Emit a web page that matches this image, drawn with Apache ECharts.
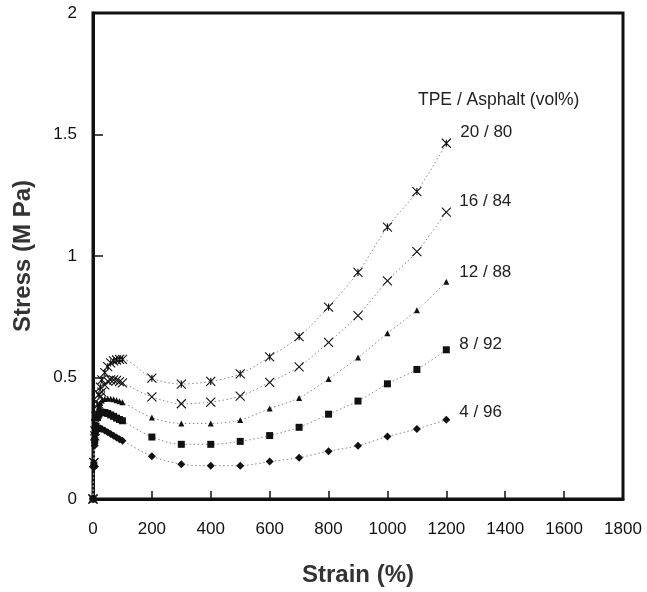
<!DOCTYPE html>
<html>
<head>
<meta charset="utf-8">
<script src="https://cdn.jsdelivr.net/npm/echarts@6/dist/echarts.min.js"></script>
<style>html,body{margin:0;padding:0;background:#fff}#c{width:647px;height:592px}</style>
</head>
<body>
<div id="c"></div>
<script>
// Strain (%) sample points
const strainInitial = [0, 3, 6, 10, 15, 20, 25, 30, 40, 50, 60, 70, 80, 90, 100];
const strainTail = [200, 300, 400, 500, 600, 700, 800, 900, 1000, 1100, 1200];

// Series names (TPE / Asphalt vol%)
const seriesNames = ['20 / 80', '16 / 84', '12 / 88', '8 / 92', '4 / 96'];

// Stress (MPa) values – initial region (0–100 % strain)
const init2080 = [0, 0.15, 0.28, 0.34, 0.39, 0.43, 0.46, 0.49, 0.52, 0.545, 0.56, 0.568, 0.572, 0.575, 0.575];
const init1684 = [0, 0.15, 0.26, 0.31, 0.35, 0.39, 0.42, 0.44, 0.47, 0.485, 0.49, 0.49, 0.488, 0.483, 0.478];
const init1288 = [0, 0.15, 0.25, 0.31, 0.355, 0.38, 0.395, 0.405, 0.412, 0.414, 0.413, 0.41, 0.406, 0.402, 0.398];
const init0892 = [0, 0.14, 0.24, 0.30, 0.335, 0.35, 0.355, 0.357, 0.356, 0.352, 0.346, 0.34, 0.333, 0.327, 0.322];
const init0496 = [0, 0.13, 0.22, 0.265, 0.285, 0.29, 0.29, 0.288, 0.282, 0.275, 0.267, 0.26, 0.253, 0.246, 0.24];

// Stress (MPa) values – 200–1200 % strain
const tail2080 = [0.497, 0.473, 0.484, 0.515, 0.585, 0.668, 0.79, 0.933, 1.119, 1.265, 1.464];
const tail1684 = [0.420, 0.392, 0.399, 0.423, 0.480, 0.544, 0.645, 0.755, 0.898, 1.018, 1.181];
const tail1288 = [0.335, 0.311, 0.311, 0.325, 0.372, 0.416, 0.494, 0.582, 0.682, 0.777, 0.894];
const tail0892 = [0.255, 0.225, 0.225, 0.237, 0.261, 0.295, 0.349, 0.403, 0.474, 0.533, 0.614];
const tail0496 = [0.176, 0.143, 0.137, 0.137, 0.154, 0.170, 0.197, 0.219, 0.257, 0.288, 0.326];

const initAll = [init2080, init1684, init1288, init0892, init0496];
const tailAll = [tail2080, tail1684, tail1288, tail0892, tail0496];

const FONT = '"Liberation Sans", Arial, Helvetica, sans-serif';

const symbols = [
  'path://M0,0L10,10M10,0L0,10M5,1L5,9',
  'path://M0,0L10,10M10,0L0,10',
  'triangle',
  'rect',
  'diamond'
];
const symbolSizes = [[9, 9], [9, 9], [6, 6], [7, 7], [8, 8]];
const strokeOnly = [true, true, false, false, false];
const labelOffsets = [[6, -11], [5, -11], [5, -9], [5, -5], [5, -7]];

function buildData(i) {
  const d = [];
  strainInitial.forEach((s, k) => d.push([s, initAll[i][k]]));
  strainTail.forEach((s, k) => d.push([s, tailAll[i][k]]));
  return d;
}

const series = seriesNames.map((name, i) => ({
  name: name,
  type: 'line',
  data: buildData(i),
  smooth: 0.3,
  symbol: symbols[i],
  symbolSize: symbolSizes[i],
  showAllSymbol: true,
  itemStyle: strokeOnly[i]
    ? { color: 'rgba(0,0,0,0)', borderColor: '#111', borderWidth: 1.1 }
    : { color: '#111', borderColor: '#111', borderWidth: 0 },
  lineStyle: { color: '#888', width: 1, type: [1.5, 2.5] },
  endLabel: {
    show: true,
    formatter: name,
    color: '#222',
    fontSize: 17,
    fontFamily: FONT,
    offset: labelOffsets[i]
  },
  emphasis: { disabled: true },
  z: 3
}));

const chart = echarts.init(document.getElementById('c'));
chart.setOption({
  animation: false,
  backgroundColor: '#fff',
  grid: {
    left: 93, right: 24, top: 13, bottom: 84,
    show: true, borderColor: '#111', borderWidth: 3, backgroundColor: 'transparent'
  },
  xAxis: {
    type: 'value', min: 0, max: 1800, interval: 200,
    name: 'Strain (%)', nameLocation: 'middle', nameGap: 64,
    nameTextStyle: { fontSize: 24, fontWeight: 'bold', color: '#333', fontFamily: FONT },
    axisLine: { show: true, lineStyle: { color: '#111', width: 3 } },
    axisTick: { show: true, inside: true, length: 8, lineStyle: { color: '#111', width: 1.5 } },
    axisLabel: { fontSize: 17, color: '#111', margin: 22, fontFamily: FONT, formatter: v => String(v) },
    splitLine: { show: false }
  },
  yAxis: {
    type: 'value', min: 0, max: 2, interval: 0.5,
    name: 'Stress (M Pa)', nameLocation: 'middle', nameGap: 58, nameRotate: 90,
    nameTextStyle: { fontSize: 24, fontWeight: 'bold', color: '#333', fontFamily: FONT },
    axisLine: { show: true, lineStyle: { color: '#111', width: 3 } },
    axisTick: { show: true, inside: true, length: 10, lineStyle: { color: '#111', width: 1.5 } },
    axisLabel: { fontSize: 17, color: '#111', margin: 16, fontFamily: FONT, formatter: v => String(v) },
    splitLine: { show: false }
  },
  graphic: [{
    type: 'text', left: 418, top: 91,
    style: { text: 'TPE / Asphalt (vol%)', fontSize: 17.5, fill: '#222', fontFamily: FONT }
  }],
  series: series
});
</script>
</body>
</html>
